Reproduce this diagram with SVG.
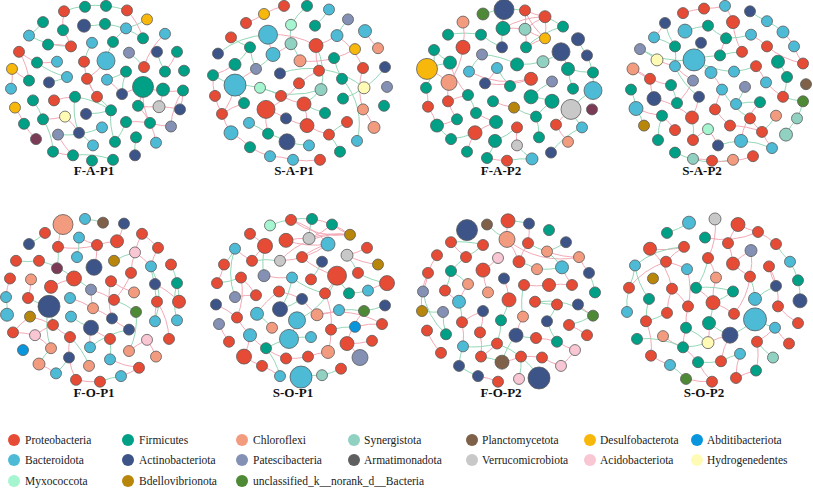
<svg xmlns="http://www.w3.org/2000/svg" width="813" height="488" viewBox="0 0 813 488">
<style>
.p{fill:none;stroke:#F3A9B6;stroke-width:1;vector-effect:non-scaling-stroke}
.g{fill:none;stroke:#93D8B7;stroke-width:1;vector-effect:non-scaling-stroke}
.nodes circle{stroke:#5a5a5a;stroke-width:0.8;transform-box:fill-box;transform-origin:center}
.t circle{transform:scale(1,1.1111)}
.b circle{transform:scale(1,1.0753)}
.pr{fill:#E64B35}.fi{fill:#00A087}.ch{fill:#F39B7F}.sy{fill:#91D1C2}.pl{fill:#7E6148}.de{fill:#F8B80B}.ab{fill:#0A96DC}.ba{fill:#4DBBD5}.ac{fill:#3C5488}.pa{fill:#8491B4}.ar{fill:#5F5F5F}.ve{fill:#C8C8C8}.ai{fill:#F9C6D4}.hy{fill:#FFFBB5}.my{fill:#A5F5D0}.bd{fill:#B8860B}.un{fill:#4E8A35}.mr{fill:#7B3A55}
.lab{font-family:"Liberation Serif","Times New Roman",serif;font-weight:bold;font-size:13px;fill:#111;text-anchor:middle}
.leg{font-family:"Liberation Serif","Times New Roman",serif;font-size:11.5px;fill:#222}
</style>
<rect width="813" height="488" fill="#fff"/>
<g id="connectors">
<g transform="matrix(1 0 0 0.9 0 0.5)">
<path class="g" d="M64 12A80 80 0 0 1 106 6"/><path class="p" d="M64 12A80 80 0 0 0 63 33"/><path class="g" d="M43 24A80 80 0 0 1 29 39"/><path class="g" d="M29 39A80 80 0 0 0 71 51"/><path class="p" d="M48 49A80 80 0 0 1 71 51"/><path class="g" d="M84 28A80 80 0 0 0 105 26"/><path class="g" d="M105 26A80 80 0 0 1 143 42"/><path class="g" d="M126 31A80 80 0 0 0 147 21"/><path class="p" d="M127 11A80 80 0 0 1 143 42"/><path class="g" d="M126 31A80 80 0 0 0 113 46"/><path class="p" d="M63 33A80 80 0 0 1 71 51"/><path class="p" d="M19 57A80 80 0 0 0 37 69"/><path class="p" d="M19 57A80 80 0 0 1 29 89"/><path class="g" d="M37 69A80 80 0 0 0 67 85"/><path class="p" d="M57 68A80 80 0 0 1 37 69"/><path class="g" d="M92 47A80 80 0 0 0 84 68"/><path class="p" d="M106 67A80 80 0 0 1 87 87"/><path class="g" d="M113 46A80 80 0 0 0 106 67"/><path class="g" d="M129 58A80 80 0 0 1 144 74"/><path class="g" d="M157 57A80 80 0 0 0 165 79"/><path class="p" d="M177 57A80 80 0 0 1 165 79"/><path class="p" d="M165 37A80 80 0 0 0 144 74"/><path class="p" d="M12 76A80 80 0 0 1 11 98"/><path class="p" d="M12 76A80 80 0 0 0 29 89"/><path class="g" d="M67 85A80 80 0 0 1 49 91"/><path class="p" d="M87 87A80 80 0 0 0 97 107"/><path class="g" d="M126 79A80 80 0 0 1 107 88"/><path class="p" d="M84 68A80 80 0 0 0 97 107"/><path class="p" d="M122 104A80 80 0 0 1 143 96"/><path class="p" d="M143 96A80 80 0 0 0 183 100"/><path class="p" d="M143 96A80 80 0 0 1 138 117"/><path class="p" d="M143 96A80 80 0 0 0 150 136"/><path class="p" d="M163 99A80 80 0 0 1 159 118"/><path class="p" d="M138 117A80 80 0 0 0 159 118"/><path class="p" d="M159 118A80 80 0 0 1 180 121"/><path class="p" d="M138 117A80 80 0 0 1 150 136"/><path class="p" d="M183 100A80 80 0 0 0 171 140"/><path class="g" d="M97 107A80 80 0 0 1 111 122"/><path class="g" d="M111 122A80 80 0 0 0 75 107"/><path class="p" d="M54 111A80 80 0 0 1 75 107"/><path class="g" d="M75 107A80 80 0 0 0 79 147"/><path class="p" d="M15 119A80 80 0 0 1 24 137"/><path class="p" d="M43 132A80 80 0 0 0 65 129"/><path class="p" d="M65 129A80 80 0 0 1 79 147"/><path class="p" d="M24 137A80 80 0 0 0 36 154"/><path class="g" d="M43 132A80 80 0 0 1 53 168"/><path class="g" d="M58 149A80 80 0 0 0 102 141"/><path class="g" d="M79 147A80 80 0 0 1 93 161"/><path class="g" d="M111 122A80 80 0 0 0 115 157"/><path class="g" d="M126 135A80 80 0 0 1 115 157"/><path class="g" d="M136 152A80 80 0 0 0 135 172"/><path class="p" d="M126 135A80 80 0 0 1 150 136"/><path class="g" d="M126 79A80 80 0 0 0 122 104"/><path class="p" d="M107 88A80 80 0 0 1 122 104"/><path class="p" d="M58 149A80 80 0 0 0 73 172"/><path class="g" d="M33 111A80 80 0 0 1 43 132"/><path class="p" d="M156 158A80 80 0 0 0 150 136"/><path class="g" d="M106 6A80 80 0 0 1 127 11"/><path class="p" d="M53 168A80 80 0 0 0 73 172"/><path class="g" d="M73 172A80 80 0 0 1 113 177"/><path class="g" d="M86 126A80 80 0 0 0 111 122"/><path class="p" d="M183 100A80 80 0 0 1 180 121"/><path class="p" d="M150 136A80 80 0 0 0 171 140"/>
<path class="p" d="M264 15A80 80 0 0 1 284 6"/><path class="g" d="M307 6A80 80 0 0 0 291 27"/><path class="g" d="M329 10A80 80 0 0 1 315 28"/><path class="p" d="M246 25A80 80 0 0 0 264 15"/><path class="g" d="M218 59A80 80 0 0 1 268 38"/><path class="g" d="M291 27A80 80 0 0 0 291 48"/><path class="p" d="M268 38A80 80 0 0 1 316 50"/><path class="p" d="M268 38A80 80 0 0 0 273 60"/><path class="g" d="M291 48A80 80 0 0 1 300 67"/><path class="p" d="M316 50A80 80 0 0 0 319 78"/><path class="p" d="M337 39A80 80 0 0 1 363 75"/><path class="p" d="M365 34A80 80 0 0 0 378 53"/><path class="g" d="M250 52A80 80 0 0 1 235 71"/><path class="g" d="M250 52A80 80 0 0 0 256 76"/><path class="p" d="M235 71A80 80 0 0 1 213 83"/><path class="g" d="M213 83A80 80 0 0 0 235 94"/><path class="g" d="M273 60A80 80 0 0 1 256 76"/><path class="p" d="M256 76A80 80 0 0 0 235 94"/><path class="g" d="M235 94A80 80 0 0 1 260 97"/><path class="g" d="M235 94A80 80 0 0 0 244 114"/><path class="g" d="M260 97A80 80 0 0 1 281 106"/><path class="p" d="M300 67A80 80 0 0 0 334 64"/><path class="g" d="M280 81A80 80 0 0 1 364 97"/><path class="g" d="M334 64A80 80 0 0 0 342 87"/><path class="g" d="M342 87A80 80 0 0 1 357 156"/><path class="p" d="M363 75A80 80 0 0 0 363 121"/><path class="g" d="M385 74A80 80 0 0 1 364 97"/><path class="p" d="M215 106A80 80 0 0 0 222 126"/><path class="p" d="M215 106A80 80 0 0 1 213 83"/><path class="g" d="M260 97A80 80 0 0 0 321 99"/><path class="p" d="M299 92A80 80 0 0 1 266 121"/><path class="p" d="M281 106A80 80 0 0 0 304 115"/><path class="g" d="M321 99A80 80 0 0 1 304 115"/><path class="g" d="M304 115A80 80 0 0 0 325 125"/><path class="p" d="M266 121A80 80 0 0 1 286 131"/><path class="p" d="M244 114A80 80 0 0 0 222 126"/><path class="p" d="M304 115A80 80 0 0 1 307 139"/><path class="g" d="M343 109A80 80 0 0 0 364 97"/><path class="p" d="M363 121A80 80 0 0 1 374 141"/><path class="p" d="M222 126A80 80 0 0 0 231 147"/><path class="g" d="M249 136A80 80 0 0 1 268 148"/><path class="p" d="M286 131A80 80 0 0 0 307 139"/><path class="g" d="M268 148A80 80 0 0 1 287 157"/><path class="g" d="M287 157A80 80 0 0 0 309 161"/><path class="p" d="M231 147A80 80 0 0 1 250 163"/><path class="p" d="M250 163A80 80 0 0 0 270 173"/><path class="p" d="M270 173A80 80 0 0 1 293 177"/><path class="p" d="M293 177A80 80 0 0 0 320 177"/><path class="g" d="M329 149A80 80 0 0 1 347 135"/><path class="p" d="M307 139A80 80 0 0 0 329 149"/><path class="g" d="M329 149A80 80 0 0 1 340 168"/><path class="p" d="M266 121A80 80 0 0 0 268 148"/><path class="g" d="M316 50A80 80 0 0 1 321 99"/><path class="p" d="M319 78A80 80 0 0 0 299 92"/><path class="p" d="M291 48A80 80 0 0 1 273 60"/><path class="g" d="M348 21A80 80 0 0 0 337 39"/><path class="p" d="M337 39A80 80 0 0 1 316 50"/><path class="g" d="M231 41A80 80 0 0 0 250 52"/><path class="p" d="M355 54A80 80 0 0 1 334 64"/><path class="p" d="M222 126A80 80 0 0 0 235 94"/>
<path class="g" d="M504 10A80 80 0 0 1 525 11"/><path class="p" d="M525 11A80 80 0 0 0 545 18"/><path class="p" d="M525 11A80 80 0 0 1 525 32"/><path class="p" d="M545 18A80 80 0 0 0 525 32"/><path class="p" d="M545 18A80 80 0 0 1 545 42"/><path class="p" d="M525 32A80 80 0 0 0 545 42"/><path class="p" d="M525 32A80 80 0 0 1 526 52"/><path class="p" d="M545 42A80 80 0 0 0 526 52"/><path class="p" d="M525 11A80 80 0 0 0 545 42"/><path class="g" d="M545 18A80 80 0 0 1 563 29"/><path class="g" d="M563 29A80 80 0 0 0 526 52"/><path class="p" d="M503 31A80 80 0 0 1 525 32"/><path class="g" d="M503 31A80 80 0 0 0 502 52"/><path class="g" d="M448 38A80 80 0 0 1 481 38"/><path class="g" d="M481 38A80 80 0 0 0 502 52"/><path class="p" d="M463 24A80 80 0 0 1 463 52"/><path class="g" d="M434 55A80 80 0 0 0 450 69"/><path class="p" d="M463 52A80 80 0 0 1 449 91"/><path class="g" d="M450 69A80 80 0 0 0 427 76"/><path class="p" d="M427 76A80 80 0 0 1 449 91"/><path class="p" d="M450 69A80 80 0 0 0 468 105"/><path class="g" d="M482 60A80 80 0 0 1 517 71"/><path class="g" d="M517 71A80 80 0 0 0 543 68"/><path class="p" d="M497 75A80 80 0 0 1 485 92"/><path class="g" d="M497 75A80 80 0 0 0 510 95"/><path class="p" d="M561 57A80 80 0 0 1 568 76"/><path class="g" d="M578 43A80 80 0 0 0 587 61"/><path class="g" d="M561 57A80 80 0 0 1 543 68"/><path class="g" d="M568 76A80 80 0 0 0 573 98"/><path class="g" d="M587 61A80 80 0 0 1 593 100"/><path class="p" d="M469 79A80 80 0 0 0 531 87"/><path class="p" d="M531 87A80 80 0 0 1 485 92"/><path class="g" d="M552 90A80 80 0 0 0 531 107"/><path class="g" d="M531 107A80 80 0 0 1 552 112"/><path class="p" d="M449 91A80 80 0 0 0 448 112"/><path class="p" d="M426 97A80 80 0 0 1 428 118"/><path class="g" d="M426 97A80 80 0 0 0 434 55"/><path class="p" d="M448 112A80 80 0 0 1 468 105"/><path class="p" d="M448 112A80 80 0 0 0 457 132"/><path class="g" d="M468 105A80 80 0 0 1 476 125"/><path class="p" d="M476 125A80 80 0 0 0 496 135"/><path class="p" d="M514 119A80 80 0 0 1 493 112"/><path class="g" d="M514 119A80 80 0 0 0 536 129"/><path class="g" d="M536 129A80 80 0 0 1 552 112"/><path class="p" d="M496 135A80 80 0 0 0 475 147"/><path class="g" d="M475 147A80 80 0 0 1 451 154"/><path class="p" d="M475 147A80 80 0 0 0 467 168"/><path class="p" d="M457 132A80 80 0 0 1 437 139"/><path class="g" d="M437 139A80 80 0 0 0 451 154"/><path class="g" d="M495 156A80 80 0 0 1 487 175"/><path class="p" d="M517 141A80 80 0 0 0 517 161"/><path class="g" d="M517 141A80 80 0 0 1 495 156"/><path class="g" d="M539 152A80 80 0 0 0 536 129"/><path class="p" d="M556 138A80 80 0 0 1 571 121"/><path class="g" d="M571 121A80 80 0 0 0 582 141"/><path class="p" d="M568 157A80 80 0 0 1 556 138"/><path class="g" d="M582 141A80 80 0 0 0 551 169"/><path class="p" d="M507 178A80 80 0 0 1 487 175"/><path class="g" d="M532 176A80 80 0 0 0 507 178"/><path class="g" d="M593 80A80 80 0 0 1 568 76"/><path class="g" d="M593 100A80 80 0 0 0 571 121"/><path class="g" d="M483 15A80 80 0 0 1 504 10"/><path class="p" d="M504 10A80 80 0 0 0 503 31"/><path class="p" d="M503 31A80 80 0 0 1 545 18"/><path class="g" d="M482 60A80 80 0 0 0 469 79"/><path class="p" d="M428 118A80 80 0 0 1 437 139"/><path class="g" d="M517 161A80 80 0 0 0 532 176"/>
<path class="p" d="M683 14A80 80 0 0 1 704 9"/><path class="p" d="M704 9A80 80 0 0 0 725 6"/><path class="p" d="M725 6A80 80 0 0 1 733 24"/><path class="g" d="M750 12A80 80 0 0 0 767 23"/><path class="g" d="M767 23A80 80 0 0 1 783 35"/><path class="g" d="M665 25A80 80 0 0 0 675 51"/><path class="g" d="M685 34A80 80 0 0 1 708 28"/><path class="g" d="M701 47A80 80 0 0 0 694 66"/><path class="g" d="M654 41A80 80 0 0 1 675 51"/><path class="g" d="M640 54A80 80 0 0 0 694 66"/><path class="g" d="M675 51A80 80 0 0 1 675 73"/><path class="p" d="M657 66A80 80 0 0 0 675 73"/><path class="g" d="M694 66A80 80 0 0 1 711 80"/><path class="g" d="M694 66A80 80 0 0 0 734 79"/><path class="p" d="M751 38A80 80 0 0 1 767 51"/><path class="p" d="M767 51A80 80 0 0 0 803 70"/><path class="p" d="M783 35A80 80 0 0 1 794 51"/><path class="p" d="M794 51A80 80 0 0 0 803 70"/><path class="g" d="M778 68A80 80 0 0 1 787 85"/><path class="g" d="M742 57A80 80 0 0 0 720 61"/><path class="g" d="M756 73A80 80 0 0 1 734 79"/><path class="g" d="M720 61A80 80 0 0 0 694 66"/><path class="p" d="M633 76A80 80 0 0 1 650 87"/><path class="p" d="M633 76A80 80 0 0 0 671 94"/><path class="g" d="M631 99A80 80 0 0 1 636 120"/><path class="g" d="M675 73A80 80 0 0 0 699 107"/><path class="g" d="M671 94A80 80 0 0 1 677 114"/><path class="p" d="M675 73A80 80 0 0 0 693 89"/><path class="p" d="M693 89A80 80 0 0 1 677 114"/><path class="p" d="M722 99A80 80 0 0 0 715 121"/><path class="p" d="M711 80A80 80 0 0 1 722 99"/><path class="g" d="M722 99A80 80 0 0 0 750 131"/><path class="g" d="M745 96A80 80 0 0 1 736 115"/><path class="p" d="M766 91A80 80 0 0 0 783 107"/><path class="g" d="M787 85A80 80 0 0 1 783 107"/><path class="g" d="M783 107A80 80 0 0 0 803 112"/><path class="g" d="M803 112A80 80 0 0 1 797 131"/><path class="g" d="M797 131A80 80 0 0 0 786 149"/><path class="g" d="M776 128A80 80 0 0 1 762 146"/><path class="p" d="M636 120A80 80 0 0 0 662 128"/><path class="g" d="M636 120A80 80 0 0 1 644 139"/><path class="p" d="M650 87A80 80 0 0 0 654 109"/><path class="p" d="M662 128A80 80 0 0 1 675 144"/><path class="p" d="M692 130A80 80 0 0 0 699 107"/><path class="g" d="M692 130A80 80 0 0 1 693 155"/><path class="p" d="M715 121A80 80 0 0 0 730 139"/><path class="p" d="M730 139A80 80 0 0 1 762 146"/><path class="p" d="M750 131A80 80 0 0 0 762 146"/><path class="g" d="M736 115A80 80 0 0 1 760 113"/><path class="p" d="M760 113A80 80 0 0 0 741 156"/><path class="g" d="M741 156A80 80 0 0 1 772 164"/><path class="p" d="M762 146A80 80 0 0 0 772 164"/><path class="p" d="M708 143A80 80 0 0 1 718 161"/><path class="p" d="M708 143A80 80 0 0 0 693 155"/><path class="g" d="M658 155A80 80 0 0 1 662 128"/><path class="g" d="M675 169A80 80 0 0 0 733 177"/><path class="p" d="M693 176A80 80 0 0 1 712 178"/><path class="p" d="M712 178A80 80 0 0 0 753 173"/><path class="g" d="M718 161A80 80 0 0 1 741 156"/><path class="p" d="M726 42A80 80 0 0 0 720 61"/><path class="p" d="M756 73A80 80 0 0 1 766 91"/><path class="g" d="M708 28A80 80 0 0 0 726 42"/><path class="g" d="M751 38A80 80 0 0 1 726 42"/><path class="p" d="M733 24A80 80 0 0 0 742 57"/><path class="g" d="M640 54A80 80 0 0 1 657 66"/><path class="p" d="M654 41A80 80 0 0 0 665 25"/><path class="p" d="M654 109A80 80 0 0 1 692 130"/>
</g>
<g transform="matrix(1 0 0 0.93 0 14.35)">
<path class="g" d="M45 235A80 80 0 0 1 29 247"/><path class="p" d="M79 240A80 80 0 0 0 97 248"/><path class="p" d="M97 248A80 80 0 0 1 117 244"/><path class="p" d="M117 244A80 80 0 0 0 124 225"/><path class="p" d="M97 248A80 80 0 0 1 94 272"/><path class="p" d="M58 250A80 80 0 0 0 97 248"/><path class="g" d="M58 250A80 80 0 0 1 57 273"/><path class="g" d="M16 265A80 80 0 0 0 39 265"/><path class="g" d="M39 265A80 80 0 0 1 74 284"/><path class="p" d="M74 284A80 80 0 0 0 51 293"/><path class="g" d="M74 284A80 80 0 0 1 91 296"/><path class="p" d="M91 296A80 80 0 0 0 93 316"/><path class="p" d="M91 296A80 80 0 0 1 114 307"/><path class="p" d="M111 287A80 80 0 0 0 134 299"/><path class="p" d="M131 278A80 80 0 0 1 114 307"/><path class="p" d="M111 287A80 80 0 0 0 112 327"/><path class="g" d="M114 265A80 80 0 0 1 135 256"/><path class="p" d="M135 256A80 80 0 0 0 131 278"/><path class="p" d="M135 256A80 80 0 0 1 151 271"/><path class="p" d="M158 251A80 80 0 0 0 151 271"/><path class="g" d="M151 271A80 80 0 0 1 155 330"/><path class="g" d="M151 271A80 80 0 0 0 155 290"/><path class="g" d="M171 269A80 80 0 0 1 177 289"/><path class="g" d="M155 290A80 80 0 0 0 157 309"/><path class="g" d="M177 289A80 80 0 0 1 179 309"/><path class="g" d="M177 289A80 80 0 0 0 177 329"/><path class="p" d="M155 290A80 80 0 0 1 179 309"/><path class="p" d="M157 309A80 80 0 0 0 155 330"/><path class="p" d="M157 309A80 80 0 0 1 169 349"/><path class="p" d="M10 284A80 80 0 0 0 6 304"/><path class="p" d="M31 285A80 80 0 0 1 28 305"/><path class="g" d="M28 305A80 80 0 0 0 49 314"/><path class="g" d="M49 314A80 80 0 0 1 53 334"/><path class="g" d="M49 314A80 80 0 0 0 51 359"/><path class="p" d="M70 305A80 80 0 0 1 93 316"/><path class="p" d="M30 325A80 80 0 0 0 13 342"/><path class="p" d="M30 325A80 80 0 0 1 53 334"/><path class="p" d="M53 334A80 80 0 0 0 70 347"/><path class="p" d="M35 345A80 80 0 0 1 51 359"/><path class="p" d="M53 334A80 80 0 0 0 35 345"/><path class="p" d="M13 342A80 80 0 0 1 35 345"/><path class="p" d="M70 347A80 80 0 0 0 69 369"/><path class="g" d="M70 347A80 80 0 0 1 89 378"/><path class="g" d="M51 359A80 80 0 0 0 39 376"/><path class="g" d="M69 369A80 80 0 0 1 56 386"/><path class="p" d="M69 369A80 80 0 0 0 76 393"/><path class="p" d="M39 376A80 80 0 0 1 56 386"/><path class="p" d="M76 393A80 80 0 0 0 100 395"/><path class="g" d="M100 395A80 80 0 0 1 121 389"/><path class="p" d="M121 389A80 80 0 0 0 139 380"/><path class="g" d="M90 358A80 80 0 0 1 129 339"/><path class="p" d="M91 337A80 80 0 0 0 110 349"/><path class="g" d="M91 337A80 80 0 0 1 71 325"/><path class="p" d="M112 327A80 80 0 0 0 129 339"/><path class="g" d="M136 320A80 80 0 0 1 129 362"/><path class="p" d="M147 350A80 80 0 0 0 129 362"/><path class="g" d="M110 349A80 80 0 0 1 110 371"/><path class="p" d="M110 371A80 80 0 0 0 139 380"/><path class="p" d="M147 350A80 80 0 0 1 156 368"/><path class="g" d="M136 320A80 80 0 0 0 114 307"/><path class="p" d="M93 316A80 80 0 0 1 112 327"/><path class="p" d="M142 236A80 80 0 0 0 135 256"/><path class="p" d="M142 236A80 80 0 0 1 158 251"/><path class="g" d="M77 261A80 80 0 0 0 79 240"/><path class="g" d="M85 220A80 80 0 0 1 103 224"/><path class="p" d="M63 226A80 80 0 0 0 58 250"/><path class="g" d="M6 304A80 80 0 0 1 7 323"/><path class="p" d="M91 337A80 80 0 0 0 90 358"/>
<path class="g" d="M312 220A80 80 0 0 0 270 227"/><path class="p" d="M291 221A80 80 0 0 1 328 247"/><path class="p" d="M291 221A80 80 0 0 0 350 237"/><path class="p" d="M312 220A80 80 0 0 1 350 237"/><path class="p" d="M332 226A80 80 0 0 0 350 237"/><path class="p" d="M309 241A80 80 0 0 1 350 237"/><path class="p" d="M286 243A80 80 0 0 0 328 247"/><path class="p" d="M302 261A80 80 0 0 1 328 247"/><path class="p" d="M280 265A80 80 0 0 0 328 247"/><path class="p" d="M280 265A80 80 0 0 1 350 237"/><path class="p" d="M309 241A80 80 0 0 0 332 226"/><path class="p" d="M286 243A80 80 0 0 1 309 241"/><path class="g" d="M312 220A80 80 0 0 0 309 241"/><path class="p" d="M250 236A80 80 0 0 1 265 249"/><path class="p" d="M235 252A80 80 0 0 0 252 265"/><path class="g" d="M235 252A80 80 0 0 1 224 269"/><path class="p" d="M265 249A80 80 0 0 0 252 265"/><path class="g" d="M252 265A80 80 0 0 1 280 265"/><path class="g" d="M265 249A80 80 0 0 0 264 281"/><path class="p" d="M367 251A80 80 0 0 1 347 259"/><path class="p" d="M347 259A80 80 0 0 0 378 269"/><path class="g" d="M347 259A80 80 0 0 1 358 278"/><path class="g" d="M358 278A80 80 0 0 0 387 289"/><path class="p" d="M224 269A80 80 0 0 1 217 289"/><path class="g" d="M217 289A80 80 0 0 0 241 283"/><path class="p" d="M241 283A80 80 0 0 1 256 302"/><path class="p" d="M256 302A80 80 0 0 0 235 304"/><path class="p" d="M241 283A80 80 0 0 1 237 326"/><path class="p" d="M264 281A80 80 0 0 0 292 283"/><path class="g" d="M292 283A80 80 0 0 1 280 317"/><path class="p" d="M302 261A80 80 0 0 0 337 281"/><path class="g" d="M322 266A80 80 0 0 1 311 285"/><path class="g" d="M292 283A80 80 0 0 0 325 300"/><path class="p" d="M337 281A80 80 0 0 1 325 300"/><path class="g" d="M337 281A80 80 0 0 0 349 300"/><path class="g" d="M337 281A80 80 0 0 1 297 329"/><path class="p" d="M279 298A80 80 0 0 0 257 322"/><path class="p" d="M279 298A80 80 0 0 1 302 306"/><path class="p" d="M302 306A80 80 0 0 0 317 323"/><path class="g" d="M302 306A80 80 0 0 1 280 317"/><path class="p" d="M317 323A80 80 0 0 0 339 318"/><path class="g" d="M339 318A80 80 0 0 1 364 319"/><path class="g" d="M364 319A80 80 0 0 0 385 313"/><path class="p" d="M317 323A80 80 0 0 1 382 333"/><path class="p" d="M364 319A80 80 0 0 0 347 354"/><path class="p" d="M355 336A80 80 0 0 1 382 333"/><path class="g" d="M355 336A80 80 0 0 0 331 339"/><path class="p" d="M331 339A80 80 0 0 1 328 363"/><path class="p" d="M347 354A80 80 0 0 0 372 351"/><path class="p" d="M347 354A80 80 0 0 1 360 369"/><path class="p" d="M219 333A80 80 0 0 0 229 352"/><path class="p" d="M216 312A80 80 0 0 1 237 326"/><path class="p" d="M237 326A80 80 0 0 0 250 345"/><path class="p" d="M250 345A80 80 0 0 1 244 368"/><path class="p" d="M250 345A80 80 0 0 0 286 370"/><path class="g" d="M289 349A80 80 0 0 1 311 347"/><path class="g" d="M289 349A80 80 0 0 0 266 359"/><path class="g" d="M266 359A80 80 0 0 1 280 389"/><path class="p" d="M244 368A80 80 0 0 0 262 378"/><path class="p" d="M262 378A80 80 0 0 1 280 389"/><path class="p" d="M286 370A80 80 0 0 0 308 368"/><path class="g" d="M301 390A80 80 0 0 1 322 388"/><path class="g" d="M322 388A80 80 0 0 0 341 381"/><path class="p" d="M297 329A80 80 0 0 1 289 349"/><path class="g" d="M272 337A80 80 0 0 0 257 322"/><path class="g" d="M368 297A80 80 0 0 1 349 300"/><path class="p" d="M387 289A80 80 0 0 0 368 297"/><path class="p" d="M325 300A80 80 0 0 1 331 339"/><path class="p" d="M328 363A80 80 0 0 0 308 368"/><path class="g" d="M235 304A80 80 0 0 1 235 252"/>
<path class="g" d="M451 245A80 80 0 0 1 483 248"/><path class="p" d="M437 259A80 80 0 0 0 428 278"/><path class="p" d="M466 261A80 80 0 0 1 451 245"/><path class="g" d="M466 261A80 80 0 0 0 451 276"/><path class="g" d="M483 248A80 80 0 0 1 466 261"/><path class="g" d="M487 226A80 80 0 0 0 507 242"/><path class="g" d="M508 222A80 80 0 0 1 529 225"/><path class="p" d="M508 222A80 80 0 0 0 507 242"/><path class="p" d="M529 225A80 80 0 0 1 528 246"/><path class="g" d="M528 246A80 80 0 0 0 547 255"/><path class="p" d="M507 242A80 80 0 0 1 519 266"/><path class="p" d="M507 242A80 80 0 0 0 579 261"/><path class="g" d="M566 245A80 80 0 0 1 547 255"/><path class="p" d="M547 255A80 80 0 0 0 579 261"/><path class="g" d="M547 255A80 80 0 0 1 562 272"/><path class="p" d="M579 261A80 80 0 0 0 589 278"/><path class="g" d="M562 272A80 80 0 0 1 537 274"/><path class="g" d="M537 274A80 80 0 0 0 519 266"/><path class="p" d="M504 284A80 80 0 0 1 509 307"/><path class="p" d="M524 291A80 80 0 0 0 549 291"/><path class="p" d="M549 291A80 80 0 0 1 572 291"/><path class="p" d="M562 272A80 80 0 0 0 572 291"/><path class="g" d="M589 278A80 80 0 0 1 595 299"/><path class="g" d="M468 290A80 80 0 0 0 451 276"/><path class="p" d="M428 278A80 80 0 0 1 423 298"/><path class="p" d="M428 278A80 80 0 0 0 422 319"/><path class="g" d="M451 276A80 80 0 0 1 445 297"/><path class="p" d="M445 297A80 80 0 0 0 459 309"/><path class="g" d="M459 309A80 80 0 0 1 462 331"/><path class="p" d="M468 290A80 80 0 0 0 459 309"/><path class="p" d="M483 319A80 80 0 0 1 480 342"/><path class="p" d="M483 319A80 80 0 0 0 462 331"/><path class="g" d="M509 307A80 80 0 0 1 501 329"/><path class="g" d="M535 309A80 80 0 0 0 557 312"/><path class="g" d="M535 309A80 80 0 0 1 593 324"/><path class="p" d="M578 312A80 80 0 0 0 593 324"/><path class="g" d="M557 312A80 80 0 0 1 547 330"/><path class="p" d="M523 325A80 80 0 0 0 516 345"/><path class="g" d="M501 329A80 80 0 0 1 497 354"/><path class="g" d="M547 330A80 80 0 0 0 557 352"/><path class="p" d="M569 334A80 80 0 0 1 587 345"/><path class="g" d="M516 345A80 80 0 0 0 536 348"/><path class="p" d="M536 348A80 80 0 0 1 557 352"/><path class="p" d="M557 352A80 80 0 0 0 575 361"/><path class="p" d="M575 361A80 80 0 0 1 561 378"/><path class="g" d="M463 357A80 80 0 0 0 497 354"/><path class="p" d="M462 331A80 80 0 0 1 463 357"/><path class="p" d="M427 340A80 80 0 0 0 441 364"/><path class="g" d="M446 344A80 80 0 0 1 443 320"/><path class="g" d="M422 319A80 80 0 0 0 443 320"/><path class="p" d="M480 342A80 80 0 0 1 481 368"/><path class="g" d="M463 357A80 80 0 0 0 459 378"/><path class="g" d="M481 368A80 80 0 0 1 502 374"/><path class="p" d="M502 374A80 80 0 0 0 521 368"/><path class="p" d="M521 368A80 80 0 0 1 542 369"/><path class="g" d="M459 378A80 80 0 0 0 478 389"/><path class="p" d="M478 389A80 80 0 0 1 498 395"/><path class="g" d="M519 392A80 80 0 0 0 521 368"/><path class="p" d="M497 354A80 80 0 0 1 481 368"/><path class="g" d="M516 345A80 80 0 0 0 502 374"/><path class="p" d="M561 378A80 80 0 0 1 542 369"/><path class="g" d="M423 298A80 80 0 0 0 446 344"/><path class="g" d="M593 324A80 80 0 0 1 569 334"/><path class="p" d="M483 275A80 80 0 0 0 488 299"/><path class="p" d="M498 262A80 80 0 0 1 483 275"/><path class="g" d="M524 291A80 80 0 0 0 523 325"/><path class="g" d="M497 354A80 80 0 0 1 539 391"/><path class="p" d="M528 246A80 80 0 0 0 519 266"/>
<path class="g" d="M689 224A80 80 0 0 1 667 235"/><path class="p" d="M738 226A80 80 0 0 0 758 234"/><path class="p" d="M758 234A80 80 0 0 1 776 247"/><path class="p" d="M705 240A80 80 0 0 0 758 234"/><path class="p" d="M728 246A80 80 0 0 1 733 268"/><path class="p" d="M751 254A80 80 0 0 0 733 268"/><path class="p" d="M751 254A80 80 0 0 1 750 282"/><path class="g" d="M776 247A80 80 0 0 0 790 266"/><path class="g" d="M790 266A80 80 0 0 1 798 286"/><path class="p" d="M650 252A80 80 0 0 0 684 250"/><path class="p" d="M650 252A80 80 0 0 1 672 295"/><path class="g" d="M684 250A80 80 0 0 0 635 270"/><path class="g" d="M635 270A80 80 0 0 1 629 294"/><path class="p" d="M666 266A80 80 0 0 0 629 294"/><path class="p" d="M666 266A80 80 0 0 1 687 274"/><path class="g" d="M635 270A80 80 0 0 0 649 306"/><path class="p" d="M687 274A80 80 0 0 1 688 314"/><path class="p" d="M716 283A80 80 0 0 0 713 310"/><path class="g" d="M696 294A80 80 0 0 1 733 298"/><path class="p" d="M733 268A80 80 0 0 0 750 282"/><path class="g" d="M750 282A80 80 0 0 1 755 306"/><path class="p" d="M769 271A80 80 0 0 0 776 292"/><path class="p" d="M769 271A80 80 0 0 1 778 314"/><path class="g" d="M776 292A80 80 0 0 0 755 306"/><path class="p" d="M696 294A80 80 0 0 1 713 310"/><path class="g" d="M713 310A80 80 0 0 0 733 298"/><path class="p" d="M672 295A80 80 0 0 1 688 314"/><path class="p" d="M688 314A80 80 0 0 0 686 337"/><path class="g" d="M667 321A80 80 0 0 1 646 330"/><path class="g" d="M649 306A80 80 0 0 0 646 330"/><path class="p" d="M646 330A80 80 0 0 1 651 367"/><path class="p" d="M663 346A80 80 0 0 0 683 358"/><path class="g" d="M637 349A80 80 0 0 1 683 358"/><path class="p" d="M686 337A80 80 0 0 0 683 358"/><path class="p" d="M709 332A80 80 0 0 1 708 353"/><path class="g" d="M709 332A80 80 0 0 0 713 310"/><path class="g" d="M686 337A80 80 0 0 1 708 353"/><path class="p" d="M734 322A80 80 0 0 0 713 310"/><path class="g" d="M755 328A80 80 0 0 1 730 345"/><path class="g" d="M755 328A80 80 0 0 0 775 337"/><path class="p" d="M775 337A80 80 0 0 1 757 352"/><path class="p" d="M775 337A80 80 0 0 0 789 354"/><path class="p" d="M798 332A80 80 0 0 1 778 314"/><path class="p" d="M730 345A80 80 0 0 0 708 353"/><path class="g" d="M708 353A80 80 0 0 1 683 358"/><path class="g" d="M698 374A80 80 0 0 0 721 373"/><path class="p" d="M683 358A80 80 0 0 1 698 374"/><path class="p" d="M698 374A80 80 0 0 0 712 395"/><path class="g" d="M721 373A80 80 0 0 1 740 365"/><path class="p" d="M740 365A80 80 0 0 0 736 391"/><path class="p" d="M757 352A80 80 0 0 1 756 383"/><path class="g" d="M757 352A80 80 0 0 0 773 369"/><path class="g" d="M670 377A80 80 0 0 1 686 392"/><path class="p" d="M686 392A80 80 0 0 0 712 395"/><path class="p" d="M670 377A80 80 0 0 1 651 367"/><path class="p" d="M756 383A80 80 0 0 0 736 391"/><path class="p" d="M721 373A80 80 0 0 1 730 345"/><path class="g" d="M709 332A80 80 0 0 0 730 345"/><path class="p" d="M750 282A80 80 0 0 1 734 322"/><path class="g" d="M629 294A80 80 0 0 0 627 320"/><path class="p" d="M715 220A80 80 0 0 1 708 262"/><path class="p" d="M738 226A80 80 0 0 0 728 246"/><path class="g" d="M708 262A80 80 0 0 1 696 294"/><path class="g" d="M800 308A80 80 0 0 0 798 286"/><path class="p" d="M667 321A80 80 0 0 1 672 295"/><path class="p" d="M684 250A80 80 0 0 0 666 266"/><path class="p" d="M708 262A80 80 0 0 1 716 283"/>
</g>
</g>
<g class="nodes">
<g class="t" transform="matrix(1 0 0 0.9 0 0.5)">
<g id="F-A-P1">
<circle class="pr" cx="64" cy="12" r="5.5"/><circle class="fi" cx="85" cy="7" r="5.5"/><circle class="fi" cx="106" cy="6" r="5.5"/><circle class="pr" cx="127" cy="11" r="5.5"/><circle class="de" cx="147" cy="21" r="5.5"/><circle class="fi" cx="43" cy="24" r="5.5"/><circle class="ac" cx="84" cy="28" r="6.5"/><circle class="fi" cx="105" cy="26" r="5.5"/><circle class="ba" cx="126" cy="31" r="5.5"/><circle class="ba" cx="165" cy="37" r="5.5"/><circle class="ba" cx="29" cy="39" r="5.5"/><circle class="fi" cx="63" cy="33" r="5.5"/><circle class="fi" cx="48" cy="49" r="5.5"/><circle class="pr" cx="71" cy="51" r="5.5"/><circle class="ba" cx="92" cy="47" r="5.5"/><circle class="fi" cx="113" cy="46" r="5.5"/><circle class="fi" cx="143" cy="42" r="5.5"/><circle class="pa" cx="129" cy="58" r="5.5"/><circle class="ac" cx="157" cy="57" r="5.5"/><circle class="fi" cx="177" cy="57" r="5.5"/><circle class="pr" cx="19" cy="57" r="5.5"/><circle class="ba" cx="106" cy="67" r="9"/><circle class="pr" cx="84" cy="68" r="5.5"/><circle class="fi" cx="37" cy="69" r="5.5"/><circle class="ba" cx="57" cy="68" r="5.5"/><circle class="pr" cx="144" cy="74" r="5.5"/><circle class="de" cx="12" cy="76" r="5.5"/><circle class="fi" cx="165" cy="79" r="5.5"/><circle class="fi" cx="184" cy="78" r="5.5"/><circle class="fi" cx="126" cy="79" r="5.5"/><circle class="fi" cx="29" cy="89" r="5.5"/><circle class="ac" cx="49" cy="91" r="5.5"/><circle class="ba" cx="67" cy="85" r="5.5"/><circle class="pr" cx="87" cy="87" r="5.5"/><circle class="ba" cx="107" cy="88" r="5.5"/><circle class="fi" cx="143" cy="96" r="10.5"/><circle class="fi" cx="163" cy="99" r="6.5"/><circle class="fi" cx="183" cy="100" r="5.5"/><circle class="ba" cx="11" cy="98" r="5.5"/><circle class="fi" cx="33" cy="111" r="5.5"/><circle class="pr" cx="54" cy="111" r="5.5"/><circle class="fi" cx="75" cy="107" r="5.5"/><circle class="pr" cx="97" cy="107" r="5.5"/><circle class="ac" cx="122" cy="104" r="5.5"/><circle class="de" cx="15" cy="119" r="5.5"/><circle class="fi" cx="138" cy="117" r="5.5"/><circle class="ve" cx="159" cy="118" r="6"/><circle class="ac" cx="180" cy="121" r="5.5"/><circle class="fi" cx="43" cy="132" r="5.5"/><circle class="hy" cx="65" cy="129" r="5.5"/><circle class="ac" cx="86" cy="126" r="5.5"/><circle class="fi" cx="111" cy="122" r="5.5"/><circle class="fi" cx="24" cy="137" r="5.5"/><circle class="fi" cx="126" cy="135" r="5.5"/><circle class="fi" cx="150" cy="136" r="5.5"/><circle class="pa" cx="171" cy="140" r="5.5"/><circle class="pa" cx="58" cy="149" r="5.5"/><circle class="ac" cx="79" cy="147" r="5.5"/><circle class="ba" cx="102" cy="141" r="5.5"/><circle class="mr" cx="36" cy="154" r="5.5"/><circle class="fi" cx="115" cy="157" r="5.5"/><circle class="fi" cx="136" cy="152" r="5.5"/><circle class="ba" cx="156" cy="158" r="5.5"/><circle class="ba" cx="93" cy="161" r="5.5"/><circle class="fi" cx="53" cy="168" r="5.5"/><circle class="fi" cx="73" cy="172" r="5.5"/><circle class="fi" cx="92" cy="178" r="5.5"/><circle class="fi" cx="113" cy="177" r="5.5"/><circle class="ac" cx="135" cy="172" r="5.5"/>
</g>
<g id="S-A-P1">
<circle class="pr" cx="284" cy="6" r="5.5"/><circle class="fi" cx="307" cy="6" r="5.5"/><circle class="ba" cx="329" cy="10" r="5.5"/><circle class="de" cx="264" cy="15" r="5.5"/><circle class="pr" cx="246" cy="25" r="5.5"/><circle class="my" cx="291" cy="27" r="5.5"/><circle class="fi" cx="315" cy="28" r="5.5"/><circle class="pa" cx="348" cy="21" r="5.5"/><circle class="ba" cx="268" cy="38" r="9.5"/><circle class="pr" cx="231" cy="41" r="5.5"/><circle class="ba" cx="337" cy="39" r="6"/><circle class="ba" cx="365" cy="34" r="6.5"/><circle class="fi" cx="250" cy="52" r="5.5"/><circle class="sy" cx="291" cy="48" r="6"/><circle class="pr" cx="316" cy="50" r="7"/><circle class="ac" cx="218" cy="59" r="5.5"/><circle class="ba" cx="273" cy="60" r="7"/><circle class="de" cx="355" cy="54" r="5.5"/><circle class="ch" cx="378" cy="53" r="5.5"/><circle class="fi" cx="235" cy="71" r="6"/><circle class="pa" cx="256" cy="76" r="5.5"/><circle class="ch" cx="300" cy="67" r="6"/><circle class="fi" cx="334" cy="64" r="5.5"/><circle class="pr" cx="363" cy="75" r="5.5"/><circle class="ac" cx="385" cy="74" r="5.5"/><circle class="fi" cx="213" cy="83" r="5.5"/><circle class="ac" cx="280" cy="81" r="5.5"/><circle class="pr" cx="319" cy="78" r="5.5"/><circle class="fi" cx="342" cy="87" r="5.5"/><circle class="ba" cx="235" cy="94" r="11"/><circle class="pr" cx="299" cy="92" r="5.5"/><circle class="my" cx="260" cy="97" r="5.5"/><circle class="sy" cx="321" cy="99" r="6"/><circle class="hy" cx="364" cy="97" r="6"/><circle class="pa" cx="387" cy="96" r="5.5"/><circle class="pr" cx="215" cy="106" r="5.5"/><circle class="fi" cx="244" cy="114" r="5.5"/><circle class="pr" cx="281" cy="106" r="5.5"/><circle class="pr" cx="266" cy="121" r="9"/><circle class="pr" cx="304" cy="115" r="7"/><circle class="fi" cx="343" cy="109" r="5.5"/><circle class="ch" cx="363" cy="121" r="5.5"/><circle class="fi" cx="384" cy="117" r="5.5"/><circle class="pr" cx="222" cy="126" r="5.5"/><circle class="fi" cx="325" cy="125" r="5.5"/><circle class="ac" cx="286" cy="131" r="5.5"/><circle class="ba" cx="249" cy="136" r="5.5"/><circle class="pr" cx="307" cy="139" r="7"/><circle class="pr" cx="347" cy="135" r="5.5"/><circle class="ch" cx="374" cy="141" r="6"/><circle class="ba" cx="231" cy="147" r="7"/><circle class="fi" cx="268" cy="148" r="5.5"/><circle class="pr" cx="329" cy="149" r="5.5"/><circle class="ac" cx="287" cy="157" r="8"/><circle class="ba" cx="309" cy="161" r="5.5"/><circle class="ba" cx="357" cy="156" r="5.5"/><circle class="fi" cx="250" cy="163" r="5.5"/><circle class="ba" cx="270" cy="173" r="5.5"/><circle class="ba" cx="293" cy="177" r="5.5"/><circle class="pr" cx="320" cy="177" r="5.5"/><circle class="fi" cx="340" cy="168" r="5.5"/>
</g>
<g id="F-A-P2">
<circle class="un" cx="483" cy="15" r="6"/><circle class="ac" cx="504" cy="10" r="10"/><circle class="pr" cx="525" cy="11" r="5.5"/><circle class="pr" cx="545" cy="18" r="6"/><circle class="ch" cx="463" cy="24" r="6"/><circle class="fi" cx="448" cy="38" r="5.5"/><circle class="fi" cx="481" cy="38" r="5.5"/><circle class="fi" cx="503" cy="31" r="7"/><circle class="sy" cx="525" cy="32" r="6"/><circle class="fi" cx="563" cy="29" r="5.5"/><circle class="de" cx="545" cy="42" r="5.5"/><circle class="ac" cx="578" cy="43" r="6.5"/><circle class="fi" cx="434" cy="55" r="5.5"/><circle class="pr" cx="463" cy="52" r="7"/><circle class="ac" cx="502" cy="52" r="5.5"/><circle class="fi" cx="526" cy="52" r="5.5"/><circle class="ac" cx="561" cy="57" r="9"/><circle class="ac" cx="587" cy="61" r="5.5"/><circle class="de" cx="427" cy="76" r="10.5"/><circle class="fi" cx="450" cy="69" r="6.5"/><circle class="pa" cx="482" cy="60" r="5.5"/><circle class="ba" cx="497" cy="75" r="5.5"/><circle class="fi" cx="517" cy="71" r="6.5"/><circle class="sy" cx="543" cy="68" r="6"/><circle class="fi" cx="568" cy="76" r="6.5"/><circle class="fi" cx="593" cy="80" r="5.5"/><circle class="ba" cx="469" cy="79" r="5.5"/><circle class="ch" cx="449" cy="91" r="8"/><circle class="fi" cx="426" cy="97" r="5.5"/><circle class="ac" cx="485" cy="92" r="5.5"/><circle class="fi" cx="510" cy="95" r="5.5"/><circle class="pr" cx="531" cy="87" r="6.5"/><circle class="pa" cx="552" cy="90" r="5.5"/><circle class="fi" cx="573" cy="98" r="5.5"/><circle class="ba" cx="593" cy="100" r="9"/><circle class="pr" cx="448" cy="112" r="5.5"/><circle class="fi" cx="468" cy="105" r="5.5"/><circle class="fi" cx="493" cy="112" r="5.5"/><circle class="fi" cx="531" cy="107" r="7"/><circle class="fi" cx="552" cy="112" r="7"/><circle class="pr" cx="428" cy="118" r="5.5"/><circle class="ve" cx="571" cy="121" r="10"/><circle class="mr" cx="592" cy="121" r="5.5"/><circle class="fi" cx="476" cy="125" r="5.5"/><circle class="bd" cx="514" cy="119" r="5.5"/><circle class="fi" cx="457" cy="132" r="5.5"/><circle class="fi" cx="536" cy="129" r="5.5"/><circle class="fi" cx="437" cy="139" r="6.5"/><circle class="fi" cx="496" cy="135" r="6.5"/><circle class="pr" cx="556" cy="138" r="5.5"/><circle class="ba" cx="582" cy="141" r="5.5"/><circle class="pr" cx="475" cy="147" r="7"/><circle class="pr" cx="517" cy="141" r="5.5"/><circle class="fi" cx="451" cy="154" r="5.5"/><circle class="fi" cx="495" cy="156" r="6.5"/><circle class="fi" cx="539" cy="152" r="5.5"/><circle class="ch" cx="568" cy="157" r="5.5"/><circle class="ve" cx="517" cy="161" r="5.5"/><circle class="fi" cx="467" cy="168" r="5.5"/><circle class="fi" cx="487" cy="175" r="5.5"/><circle class="pr" cx="507" cy="178" r="5.5"/><circle class="ba" cx="532" cy="176" r="6"/><circle class="ac" cx="551" cy="169" r="5.5"/>
</g>
<g id="S-A-P2">
<circle class="pr" cx="683" cy="14" r="5.5"/><circle class="pr" cx="704" cy="9" r="5.5"/><circle class="ba" cx="725" cy="6" r="5.5"/><circle class="ac" cx="750" cy="12" r="5.5"/><circle class="ac" cx="665" cy="25" r="5.5"/><circle class="pr" cx="733" cy="24" r="6.5"/><circle class="ba" cx="767" cy="23" r="5.5"/><circle class="ba" cx="685" cy="34" r="7"/><circle class="fi" cx="708" cy="28" r="5.5"/><circle class="ba" cx="654" cy="41" r="5.5"/><circle class="fi" cx="726" cy="42" r="5.5"/><circle class="ba" cx="751" cy="38" r="5.5"/><circle class="ba" cx="783" cy="35" r="6"/><circle class="pa" cx="640" cy="54" r="5.5"/><circle class="fi" cx="675" cy="51" r="5.5"/><circle class="ac" cx="701" cy="47" r="5.5"/><circle class="pr" cx="767" cy="51" r="5.5"/><circle class="ba" cx="794" cy="51" r="5.5"/><circle class="hy" cx="657" cy="66" r="6"/><circle class="ba" cx="694" cy="66" r="11"/><circle class="fi" cx="720" cy="61" r="5.5"/><circle class="pr" cx="742" cy="57" r="5.5"/><circle class="fi" cx="778" cy="68" r="6.5"/><circle class="pr" cx="803" cy="70" r="5.5"/><circle class="ch" cx="633" cy="76" r="6"/><circle class="ba" cx="675" cy="73" r="5.5"/><circle class="ba" cx="711" cy="80" r="6"/><circle class="ba" cx="734" cy="79" r="5.5"/><circle class="pr" cx="756" cy="73" r="5.5"/><circle class="pr" cx="650" cy="87" r="5.5"/><circle class="fi" cx="671" cy="94" r="5.5"/><circle class="pa" cx="693" cy="89" r="5.5"/><circle class="ba" cx="766" cy="91" r="5.5"/><circle class="fi" cx="787" cy="85" r="5.5"/><circle class="pl" cx="806" cy="93" r="5.5"/><circle class="fi" cx="631" cy="99" r="5.5"/><circle class="ba" cx="722" cy="99" r="5.5"/><circle class="pa" cx="745" cy="96" r="5.5"/><circle class="ac" cx="654" cy="109" r="7"/><circle class="fi" cx="677" cy="114" r="5.5"/><circle class="ac" cx="699" cy="107" r="5.5"/><circle class="pr" cx="783" cy="107" r="5.5"/><circle class="un" cx="803" cy="112" r="5.5"/><circle class="ba" cx="636" cy="120" r="7"/><circle class="ba" cx="736" cy="115" r="5.5"/><circle class="fi" cx="760" cy="113" r="5.5"/><circle class="fi" cx="662" cy="128" r="5.5"/><circle class="pr" cx="692" cy="130" r="6.5"/><circle class="pr" cx="715" cy="121" r="5.5"/><circle class="pr" cx="750" cy="131" r="5.5"/><circle class="ch" cx="776" cy="128" r="5.5"/><circle class="sy" cx="797" cy="131" r="5.5"/><circle class="bd" cx="644" cy="139" r="5.5"/><circle class="pr" cx="675" cy="144" r="5.5"/><circle class="my" cx="708" cy="143" r="5.5"/><circle class="pr" cx="730" cy="139" r="5.5"/><circle class="pr" cx="762" cy="146" r="5.5"/><circle class="sy" cx="786" cy="149" r="6.5"/><circle class="fi" cx="658" cy="155" r="5.5"/><circle class="pr" cx="693" cy="155" r="5.5"/><circle class="ac" cx="718" cy="161" r="5.5"/><circle class="ba" cx="741" cy="156" r="6.5"/><circle class="ba" cx="772" cy="164" r="5.5"/><circle class="fi" cx="675" cy="169" r="5.5"/><circle class="sy" cx="693" cy="176" r="5.5"/><circle class="pr" cx="712" cy="178" r="5.5"/><circle class="ch" cx="733" cy="177" r="5.5"/><circle class="pr" cx="753" cy="173" r="5.5"/>
</g>
</g>
<g class="b" transform="matrix(1 0 0 0.93 0 14.35)">
<g id="F-O-P1">
<circle class="ch" cx="63" cy="226" r="10"/><circle class="ba" cx="85" cy="220" r="5.5"/><circle class="pl" cx="103" cy="224" r="5.5"/><circle class="ac" cx="124" cy="225" r="5.5"/><circle class="pr" cx="45" cy="235" r="5.5"/><circle class="ba" cx="79" cy="240" r="5.5"/><circle class="pr" cx="97" cy="248" r="5.5"/><circle class="pr" cx="117" cy="244" r="6.5"/><circle class="pr" cx="142" cy="236" r="5.5"/><circle class="ac" cx="29" cy="247" r="5.5"/><circle class="pr" cx="58" cy="250" r="5.5"/><circle class="ai" cx="135" cy="256" r="5.5"/><circle class="pr" cx="158" cy="251" r="5.5"/><circle class="pr" cx="16" cy="265" r="5.5"/><circle class="pr" cx="39" cy="265" r="5.5"/><circle class="mr" cx="57" cy="273" r="5.5"/><circle class="ba" cx="77" cy="261" r="5.5"/><circle class="ac" cx="94" cy="272" r="8"/><circle class="bd" cx="114" cy="265" r="5.5"/><circle class="ba" cx="151" cy="271" r="5.5"/><circle class="pr" cx="171" cy="269" r="5.5"/><circle class="pr" cx="10" cy="284" r="5.5"/><circle class="ch" cx="31" cy="285" r="5.5"/><circle class="pr" cx="74" cy="284" r="7.5"/><circle class="pr" cx="111" cy="287" r="5.5"/><circle class="pr" cx="131" cy="278" r="5.5"/><circle class="ac" cx="155" cy="290" r="5.5"/><circle class="fi" cx="177" cy="289" r="5.5"/><circle class="pr" cx="51" cy="293" r="6.5"/><circle class="pa" cx="91" cy="296" r="5.5"/><circle class="ch" cx="134" cy="299" r="5.5"/><circle class="ba" cx="6" cy="304" r="5.5"/><circle class="pr" cx="28" cy="305" r="5.5"/><circle class="ac" cx="49" cy="314" r="11"/><circle class="ba" cx="70" cy="305" r="5.5"/><circle class="pr" cx="114" cy="307" r="5.5"/><circle class="pr" cx="157" cy="309" r="5.5"/><circle class="pr" cx="179" cy="309" r="6.5"/><circle class="ch" cx="93" cy="316" r="5.5"/><circle class="ba" cx="7" cy="323" r="6.5"/><circle class="bd" cx="30" cy="325" r="5.5"/><circle class="ba" cx="71" cy="325" r="5.5"/><circle class="ac" cx="112" cy="327" r="5.5"/><circle class="un" cx="136" cy="320" r="5.5"/><circle class="ba" cx="155" cy="330" r="5.5"/><circle class="ba" cx="177" cy="329" r="5.5"/><circle class="pr" cx="53" cy="334" r="5.5"/><circle class="ac" cx="91" cy="337" r="7.5"/><circle class="ac" cx="129" cy="339" r="5.5"/><circle class="pr" cx="13" cy="342" r="5.5"/><circle class="ai" cx="35" cy="345" r="5.5"/><circle class="pr" cx="70" cy="347" r="5.5"/><circle class="pr" cx="110" cy="349" r="5.5"/><circle class="ai" cx="147" cy="350" r="5.5"/><circle class="pr" cx="169" cy="349" r="5.5"/><circle class="ab" cx="23" cy="361" r="5.5"/><circle class="ch" cx="51" cy="359" r="5.5"/><circle class="ba" cx="90" cy="358" r="5.5"/><circle class="ch" cx="129" cy="362" r="5.5"/><circle class="ch" cx="156" cy="368" r="5.5"/><circle class="ac" cx="69" cy="369" r="5.5"/><circle class="ch" cx="39" cy="376" r="6"/><circle class="ch" cx="89" cy="378" r="5.5"/><circle class="ba" cx="110" cy="371" r="5.5"/><circle class="ba" cx="56" cy="386" r="5.5"/><circle class="pr" cx="76" cy="393" r="5.5"/><circle class="pr" cx="100" cy="395" r="5.5"/><circle class="ba" cx="121" cy="389" r="5.5"/><circle class="pr" cx="139" cy="380" r="5.5"/>
</g>
<g id="S-O-P1">
<circle class="my" cx="270" cy="227" r="5.5"/><circle class="pr" cx="291" cy="221" r="5.5"/><circle class="fi" cx="312" cy="220" r="5.5"/><circle class="fi" cx="332" cy="226" r="5.5"/><circle class="pr" cx="250" cy="236" r="5.5"/><circle class="ve" cx="309" cy="241" r="6"/><circle class="ba" cx="328" cy="247" r="7"/><circle class="bd" cx="350" cy="237" r="5.5"/><circle class="ba" cx="235" cy="252" r="5.5"/><circle class="pr" cx="265" cy="249" r="7.5"/><circle class="pr" cx="286" cy="243" r="7"/><circle class="pr" cx="367" cy="251" r="5.5"/><circle class="pr" cx="224" cy="269" r="5.5"/><circle class="pr" cx="252" cy="265" r="5.5"/><circle class="ve" cx="280" cy="265" r="5.5"/><circle class="pr" cx="302" cy="261" r="5.5"/><circle class="ac" cx="322" cy="266" r="5.5"/><circle class="ve" cx="347" cy="259" r="6"/><circle class="bd" cx="378" cy="269" r="5.5"/><circle class="pr" cx="241" cy="283" r="5.5"/><circle class="pa" cx="264" cy="281" r="6"/><circle class="ba" cx="292" cy="283" r="5.5"/><circle class="pr" cx="311" cy="285" r="5.5"/><circle class="pr" cx="337" cy="281" r="9.5"/><circle class="pr" cx="358" cy="278" r="5.5"/><circle class="pr" cx="217" cy="289" r="5.5"/><circle class="pr" cx="387" cy="289" r="7.5"/><circle class="pr" cx="279" cy="298" r="5.5"/><circle class="pr" cx="256" cy="302" r="5.5"/><circle class="pr" cx="325" cy="300" r="5.5"/><circle class="fi" cx="349" cy="300" r="5.5"/><circle class="ba" cx="368" cy="297" r="5.5"/><circle class="pa" cx="235" cy="304" r="5.5"/><circle class="ac" cx="216" cy="312" r="5.5"/><circle class="ac" cx="302" cy="306" r="5.5"/><circle class="ac" cx="385" cy="313" r="5.5"/><circle class="ac" cx="280" cy="317" r="7.5"/><circle class="ba" cx="257" cy="322" r="6.5"/><circle class="ba" cx="297" cy="329" r="8.5"/><circle class="ch" cx="317" cy="323" r="6"/><circle class="ba" cx="339" cy="318" r="5.5"/><circle class="un" cx="364" cy="319" r="5.5"/><circle class="pr" cx="237" cy="326" r="5.5"/><circle class="pa" cx="219" cy="333" r="5.5"/><circle class="ch" cx="272" cy="337" r="5.5"/><circle class="ab" cx="355" cy="336" r="5.5"/><circle class="pr" cx="382" cy="333" r="5.5"/><circle class="pr" cx="331" cy="339" r="5.5"/><circle class="ba" cx="250" cy="345" r="6.5"/><circle class="ba" cx="289" cy="349" r="9.5"/><circle class="ba" cx="311" cy="347" r="5.5"/><circle class="pr" cx="229" cy="352" r="5.5"/><circle class="fi" cx="266" cy="359" r="5.5"/><circle class="pr" cx="347" cy="354" r="7"/><circle class="pr" cx="372" cy="351" r="5.5"/><circle class="ch" cx="328" cy="363" r="6.5"/><circle class="pa" cx="360" cy="369" r="8"/><circle class="pr" cx="244" cy="368" r="7.5"/><circle class="pr" cx="286" cy="370" r="5.5"/><circle class="pr" cx="308" cy="368" r="5.5"/><circle class="pr" cx="262" cy="378" r="5.5"/><circle class="pr" cx="341" cy="381" r="5.5"/><circle class="ba" cx="280" cy="389" r="5.5"/><circle class="ba" cx="301" cy="390" r="11"/><circle class="sy" cx="322" cy="388" r="5.5"/>
</g>
<g id="F-O-P2">
<circle class="ac" cx="467" cy="232" r="10.5"/><circle class="pl" cx="487" cy="226" r="5.5"/><circle class="pr" cx="508" cy="222" r="7"/><circle class="ac" cx="529" cy="225" r="5.5"/><circle class="fi" cx="549" cy="232" r="5.5"/><circle class="pr" cx="451" cy="245" r="5.5"/><circle class="pr" cx="483" cy="248" r="5.5"/><circle class="ch" cx="507" cy="242" r="8"/><circle class="pr" cx="528" cy="246" r="5.5"/><circle class="ac" cx="566" cy="245" r="5.5"/><circle class="pr" cx="437" cy="259" r="5.5"/><circle class="pr" cx="466" cy="261" r="5.5"/><circle class="ai" cx="498" cy="262" r="5.5"/><circle class="pr" cx="519" cy="266" r="6"/><circle class="ch" cx="547" cy="255" r="5.5"/><circle class="ch" cx="579" cy="261" r="5.5"/><circle class="pr" cx="428" cy="278" r="5.5"/><circle class="fi" cx="451" cy="276" r="5.5"/><circle class="pr" cx="483" cy="275" r="7"/><circle class="ac" cx="504" cy="284" r="5.5"/><circle class="ch" cx="537" cy="274" r="5.5"/><circle class="ba" cx="562" cy="272" r="6.5"/><circle class="ac" cx="589" cy="278" r="5.5"/><circle class="ch" cx="468" cy="290" r="5.5"/><circle class="ch" cx="488" cy="299" r="5.5"/><circle class="pr" cx="524" cy="291" r="5.5"/><circle class="pr" cx="549" cy="291" r="6.5"/><circle class="pr" cx="572" cy="291" r="5.5"/><circle class="fi" cx="595" cy="299" r="5.5"/><circle class="pa" cx="423" cy="298" r="5.5"/><circle class="pr" cx="445" cy="297" r="5.5"/><circle class="ba" cx="459" cy="309" r="6.5"/><circle class="pr" cx="509" cy="307" r="7"/><circle class="pr" cx="535" cy="309" r="5.5"/><circle class="pr" cx="557" cy="312" r="5.5"/><circle class="ac" cx="578" cy="312" r="5.5"/><circle class="bd" cx="422" cy="319" r="5.5"/><circle class="pa" cx="443" cy="320" r="5.5"/><circle class="ac" cx="483" cy="319" r="5.5"/><circle class="fi" cx="501" cy="329" r="5.5"/><circle class="ch" cx="523" cy="325" r="5.5"/><circle class="ac" cx="547" cy="330" r="5.5"/><circle class="pr" cx="569" cy="334" r="5.5"/><circle class="un" cx="593" cy="324" r="5.5"/><circle class="pr" cx="462" cy="331" r="5.5"/><circle class="pr" cx="427" cy="340" r="5.5"/><circle class="fi" cx="446" cy="344" r="5.5"/><circle class="pr" cx="480" cy="342" r="5.5"/><circle class="ac" cx="516" cy="345" r="7"/><circle class="pr" cx="536" cy="348" r="5.5"/><circle class="fi" cx="557" cy="352" r="5.5"/><circle class="pr" cx="587" cy="345" r="5.5"/><circle class="ba" cx="463" cy="357" r="5.5"/><circle class="pr" cx="497" cy="354" r="5.5"/><circle class="pr" cx="441" cy="364" r="5.5"/><circle class="pr" cx="481" cy="368" r="5.5"/><circle class="pl" cx="502" cy="374" r="7"/><circle class="pr" cx="521" cy="368" r="5.5"/><circle class="pr" cx="542" cy="369" r="5.5"/><circle class="ai" cx="575" cy="361" r="5.5"/><circle class="ac" cx="459" cy="378" r="5.5"/><circle class="ai" cx="561" cy="378" r="5.5"/><circle class="ac" cx="478" cy="389" r="5.5"/><circle class="pr" cx="498" cy="395" r="5.5"/><circle class="ai" cx="519" cy="392" r="5.5"/><circle class="ac" cx="539" cy="391" r="11"/>
</g>
<g id="S-O-P2">
<circle class="ba" cx="689" cy="224" r="6.5"/><circle class="ve" cx="715" cy="220" r="6"/><circle class="pr" cx="738" cy="226" r="7"/><circle class="fi" cx="667" cy="235" r="5.5"/><circle class="pr" cx="758" cy="234" r="5.5"/><circle class="fi" cx="705" cy="240" r="5.5"/><circle class="pr" cx="728" cy="246" r="5.5"/><circle class="pr" cx="776" cy="247" r="5.5"/><circle class="pr" cx="650" cy="252" r="6.5"/><circle class="pr" cx="684" cy="250" r="5.5"/><circle class="pa" cx="751" cy="254" r="6"/><circle class="pr" cx="708" cy="262" r="5.5"/><circle class="ba" cx="635" cy="270" r="5.5"/><circle class="pr" cx="666" cy="266" r="5.5"/><circle class="ba" cx="687" cy="274" r="5.5"/><circle class="pr" cx="733" cy="268" r="6.5"/><circle class="pr" cx="769" cy="271" r="5.5"/><circle class="ba" cx="790" cy="266" r="5.5"/><circle class="bd" cx="653" cy="284" r="5.5"/><circle class="ch" cx="716" cy="283" r="5.5"/><circle class="pr" cx="750" cy="282" r="5.5"/><circle class="fi" cx="798" cy="286" r="5.5"/><circle class="pr" cx="629" cy="294" r="5.5"/><circle class="pr" cx="672" cy="295" r="5.5"/><circle class="fi" cx="696" cy="294" r="5.5"/><circle class="fi" cx="733" cy="298" r="5.5"/><circle class="ac" cx="776" cy="292" r="5.5"/><circle class="fi" cx="649" cy="306" r="5.5"/><circle class="pr" cx="713" cy="310" r="7"/><circle class="ba" cx="755" cy="306" r="6.5"/><circle class="ac" cx="800" cy="308" r="7"/><circle class="pr" cx="688" cy="314" r="5.5"/><circle class="pr" cx="778" cy="314" r="5.5"/><circle class="ba" cx="627" cy="320" r="5.5"/><circle class="pr" cx="667" cy="321" r="5.5"/><circle class="pr" cx="734" cy="322" r="5.5"/><circle class="ba" cx="755" cy="328" r="11.5"/><circle class="pr" cx="646" cy="330" r="5.5"/><circle class="fi" cx="709" cy="332" r="6.5"/><circle class="fi" cx="686" cy="337" r="5.5"/><circle class="ba" cx="775" cy="337" r="5.5"/><circle class="pr" cx="798" cy="332" r="5.5"/><circle class="fi" cx="637" cy="349" r="5.5"/><circle class="ch" cx="663" cy="346" r="5.5"/><circle class="ac" cx="730" cy="345" r="8"/><circle class="hy" cx="708" cy="353" r="6"/><circle class="pr" cx="757" cy="352" r="5.5"/><circle class="pr" cx="789" cy="354" r="5.5"/><circle class="fi" cx="683" cy="358" r="5.5"/><circle class="pr" cx="651" cy="367" r="5.5"/><circle class="ba" cx="740" cy="365" r="5.5"/><circle class="sy" cx="773" cy="369" r="5.5"/><circle class="fi" cx="698" cy="374" r="5.5"/><circle class="pr" cx="721" cy="373" r="5.5"/><circle class="ba" cx="670" cy="377" r="5.5"/><circle class="fi" cx="756" cy="383" r="5.5"/><circle class="un" cx="686" cy="392" r="5.5"/><circle class="pr" cx="712" cy="395" r="5.5"/><circle class="pr" cx="736" cy="391" r="5.5"/>
</g>
</g>
</g>
<g id="labels">
<text class="lab" x="94" y="175">F-A-P1</text>
<text class="lab" x="294" y="175">S-A-P1</text>
<text class="lab" x="501" y="175">F-A-P2</text>
<text class="lab" x="702" y="175">S-A-P2</text>
<text class="lab" x="94" y="397">F-O-P1</text>
<text class="lab" x="293" y="397">S-O-P1</text>
<text class="lab" x="501" y="397">F-O-P2</text>
<text class="lab" x="704" y="397">S-O-P2</text>
</g>
<g id="legend">
<circle class="pr" cx="14" cy="440" r="6"/><text class="leg" x="25" y="444">Proteobacteria</text>
<circle class="fi" cx="128" cy="440" r="6"/><text class="leg" x="139" y="444">Firmicutes</text>
<circle class="ch" cx="242" cy="440" r="6"/><text class="leg" x="253" y="444">Chloroflexi</text>
<circle class="sy" cx="354" cy="440" r="6"/><text class="leg" x="364" y="444">Synergistota</text>
<circle class="pl" cx="472" cy="440" r="6"/><text class="leg" x="482" y="444">Planctomycetota</text>
<circle class="de" cx="590" cy="440" r="6"/><text class="leg" x="600" y="444">Desulfobacterota</text>
<circle class="ab" cx="697" cy="440" r="6"/><text class="leg" x="707" y="444">Abditibacteriota</text>
<circle class="ba" cx="14" cy="460" r="6"/><text class="leg" x="25" y="464">Bacteroidota</text>
<circle class="ac" cx="128" cy="460" r="6"/><text class="leg" x="139" y="464">Actinobacteriota</text>
<circle class="pa" cx="242" cy="460" r="6"/><text class="leg" x="253" y="464">Patescibacteria</text>
<circle class="ar" cx="354" cy="460" r="6"/><text class="leg" x="364" y="464">Armatimonadota</text>
<circle class="ve" cx="472" cy="460" r="6"/><text class="leg" x="482" y="464">Verrucomicrobiota</text>
<circle class="ai" cx="590" cy="460" r="6"/><text class="leg" x="600" y="464">Acidobacteriota</text>
<circle class="hy" cx="697" cy="460" r="6"/><text class="leg" x="707" y="464">Hydrogenedentes</text>
<circle class="my" cx="14" cy="481" r="6"/><text class="leg" x="25" y="485">Myxococcota</text>
<circle class="bd" cx="128" cy="481" r="6"/><text class="leg" x="139" y="485">Bdellovibrionota</text>
<circle class="un" cx="242" cy="481" r="6"/><text class="leg" x="253" y="485">unclassified_k__norank_d__Bacteria</text>
</g>
</svg>
